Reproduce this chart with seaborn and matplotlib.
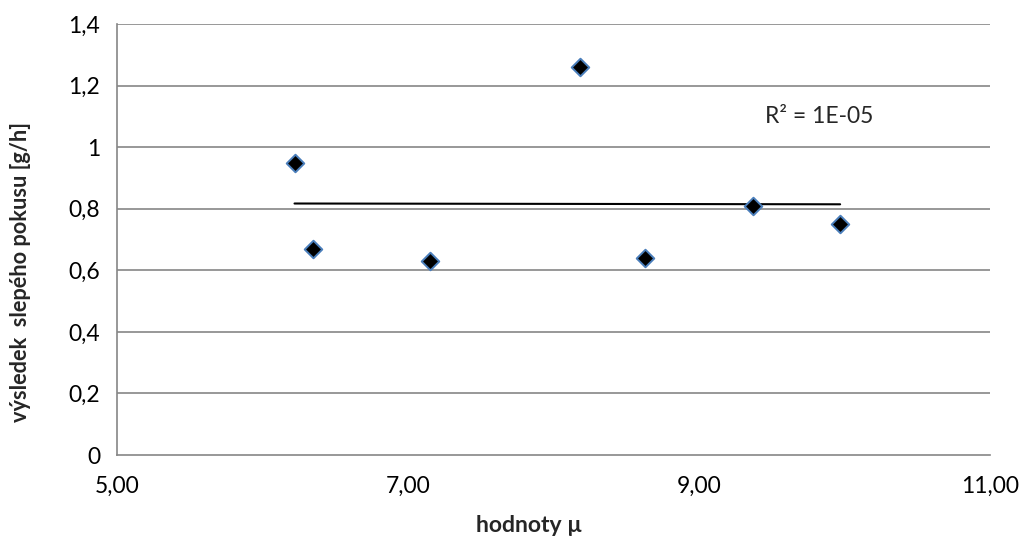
import numpy as np
import pandas as pd
import matplotlib
matplotlib.use("Agg")
import matplotlib.pyplot as plt
import seaborn as sns

# data
mu_values = [6.22, 6.35, 7.15, 8.18, 8.63, 9.37, 9.97]
blank_results = [0.95, 0.67, 0.63, 1.26, 0.64, 0.81, 0.75]
x_ticks = [5, 7, 9, 11]
x_tick_labels = ["5,00", "7,00", "9,00", "11,00"]
y_ticks = [0, 0.2, 0.4, 0.6, 0.8, 1.0, 1.2, 1.4]
y_tick_labels = ["0", "0,2", "0,4", "0,6", "0,8", "1", "1,2", "1,4"]
r2_text = "R² = 1E-05"
x_label = "hodnoty µ"
y_label = "výsledek  slepého pokusu [g/h]"

df = pd.DataFrame({"mu": mu_values, "res": blank_results})

sns.set_style("white")
plt.rcParams['font.family'] = ['Lato', 'DejaVu Sans']

fig = plt.figure(figsize=(10.22, 5.37), dpi=100)
ax = fig.add_axes([117/1022, 1 - 455/537, (990-117)/1022, (455-24)/537])

grid_c = "#868686"
for yv in y_ticks[1:]:
    ax.axhline(yv, color=grid_c, lw=1.2, zorder=0)

# trendline (linear fit)
coef = np.polyfit(df["mu"], df["res"], 1)
xs = np.array([df["mu"].min(), df["mu"].max()])
ax.plot(xs, np.polyval(coef, xs), color="black", lw=1.5, zorder=2)

sns.scatterplot(data=df, x="mu", y="res", ax=ax, marker="D", s=80,
                color="black", edgecolor="#4a7ebb", linewidth=1.4, zorder=3)

ax.set_xlim(5, 11)
ax.set_ylim(0, 1.4)
ax.set_xticks(x_ticks)
ax.set_xticklabels(x_tick_labels)
ax.set_yticks(y_ticks)
ax.set_yticklabels(y_tick_labels)

for s in ["top", "right"]:
    ax.spines[s].set_visible(False)
for s in ["left", "bottom"]:
    ax.spines[s].set_color(grid_c)
    ax.spines[s].set_linewidth(1.2)

ax.tick_params(axis="both", direction="out", length=6, width=1.2, color=grid_c,
               labelsize=16.5, labelcolor="black", pad=6)
ax.tick_params(axis="x", pad=9)

ax.set_xlabel(x_label, fontsize=16.5, fontweight="bold")
ax.set_ylabel(y_label, fontsize=15.7, fontweight="bold")
ax.xaxis.set_label_coords(0.472, -0.14)
ax.yaxis.set_label_coords(-0.098, 0.425)

ax.text(9.454, 1.10, r2_text, fontsize=16.5, va="center", ha="left")

fig.savefig("out.png", dpi=100)
